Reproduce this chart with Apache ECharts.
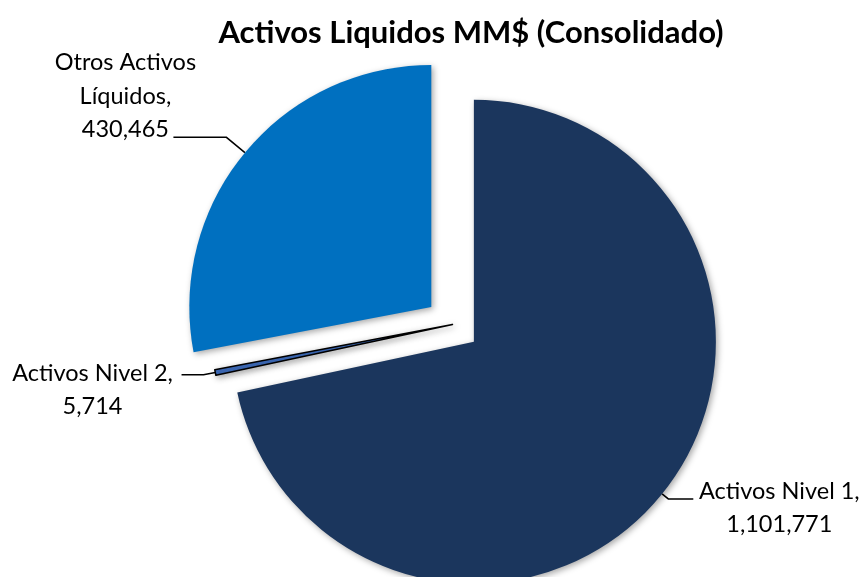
<!DOCTYPE html>
<html>
<head>
<meta charset="utf-8">
<script src="https://cdn.jsdelivr.net/npm/echarts@6/dist/echarts.min.js"></script>
<style>
  html, body { margin: 0; padding: 0; background: #ffffff; }
  #chart { width: 864px; height: 577px; }
</style>
</head>
<body>
<div id="chart"></div>
<script>
const titleText = 'Activos Liquidos MM$ (Consolidado)';
const categories = ['Activos Nivel 1', 'Activos Nivel 2', 'Otros Activos Líquidos'];
const values = [1101771, 5714, 430465];
const labelLines = [
  ['Activos Nivel 1,'],
  ['Activos Nivel 2,'],
  ['Otros Activos', 'Líquidos,']
];
const colors = ['#1B365D', '#3F6EBF', '#0070C0'];
const exploded = [true, false, true];

const FONT = 'Lato, "Liberation Sans", sans-serif';
const LABEL_SIZE = 23.5;
const LINE_H = 33.5;

const labelCfg = [
  { len: 8, len2: 25, dist: 6, width: 160, padding: [18, 0, 0, 0] },
  { len: 12, len2: 22, dist: 9, width: 160, padding: [30, 0, 0, 0] },
  { len: 24, len2: 53, dist: -27, width: 150, padding: [0, 0, 82, 0] }
];

const fmt = v => v.toLocaleString('en-US');

const data = categories.map((name, i) => ({
  name: name,
  value: values[i],
  selected: exploded[i],
  itemStyle: {
    color: colors[i],
    borderColor: i === 1 ? '#000000' : 'transparent',
    borderWidth: i === 1 ? 1.5 : 0
  },
  label: {
    distanceToLabelLine: labelCfg[i].dist,
    width: labelCfg[i].width,
    padding: labelCfg[i].padding
  },
  labelLine: {
    length: labelCfg[i].len,
    length2: labelCfg[i].len2
  }
}));

const chart = echarts.init(document.getElementById('chart'), null, { renderer: 'canvas' });
chart.setOption({
  animation: false,
  backgroundColor: '#ffffff',
  title: {
    text: titleText,
    left: 466,
    textAlign: 'center',
    top: 12,
    textStyle: { fontFamily: FONT, fontWeight: 'bold', fontSize: 31, color: '#000000' }
  },
  series: [{
    type: 'pie',
    center: [452.5, 324.5],
    radius: 242,
    startAngle: 90,
    clockwise: true,
    selectedMode: 'multiple',
    selectedOffset: 27.5,
    avoidLabelOverlap: false,
    emphasis: { disabled: true },
    itemStyle: {
      shadowBlur: 6,
      shadowOffsetX: 2,
      shadowOffsetY: 2,
      shadowColor: 'rgba(0,0,0,0.35)'
    },
    label: {
      show: true,
      position: 'outside',
      overflow: 'none',
      fontFamily: FONT,
      fontSize: LABEL_SIZE,
      lineHeight: LINE_H,
      color: '#000000',
      formatter: p => {
        const lines = labelLines[p.dataIndex].concat([fmt(p.value)]);
        return lines.map(l => '{c|' + l + '}').join('\n');
      },
      rich: {
        c: { align: 'center', fontFamily: FONT, fontSize: LABEL_SIZE, lineHeight: LINE_H, color: '#000000' }
      }
    },
    labelLine: {
      show: true,
      smooth: false,
      lineStyle: { color: '#000000', width: 1.5 }
    },
    data: data
  }]
});
</script>
</body>
</html>
